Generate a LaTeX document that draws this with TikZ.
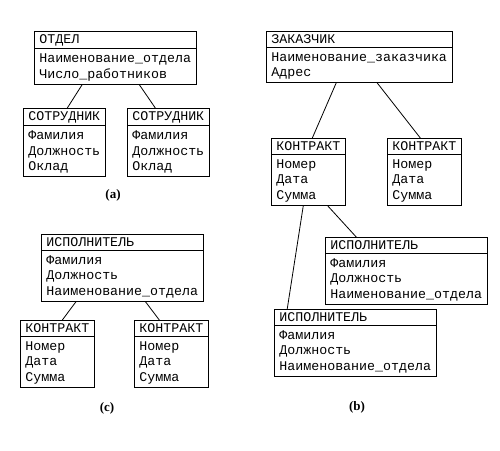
\documentclass[tikz,border=0pt]{standalone}
\usepackage{fontspec}
\newfontfamily\erfont{Liberation Mono}
\newfontfamily\lblfont{Liberation Serif}
\usetikzlibrary{shapes.multipart}
\newcommand\erhead{\rule[-1pt]{0pt}{11pt}}
\newcommand\erline{\rule[-3.5pt]{0pt}{15pt}}
\begin{document}
\begin{tikzpicture}[x=1pt,y=-1pt,line width=0.8pt,
	entity/.style={rectangle split,rectangle split parts=2,draw,anchor=north west,
		rectangle split part align={left},align=left,inner xsep=5pt,inner ysep=2pt,
		font=\erfont\fontsize{13.3}{15.5}\selectfont},
	tag/.style={font=\lblfont\bfseries\fontsize{13}{15}\selectfont}]
	\useasboundingbox (0,0) rectangle (500,450);
	% (a)
	\node[entity] (otdel) at (34,31) {\erhead ОТДЕЛ\nodepart{two}\erline Наименование\_отдела\\\erline Число\_работников};
	\node[entity] (sotr1) at (23,108) {\erhead СОТРУДНИК\nodepart{two}\erline Фамилия\\\erline Должность\\\erline Оклад};
	\node[entity] (sotr2) at (127,108) {\erhead СОТРУДНИК\nodepart{two}\erline Фамилия\\\erline Должность\\\erline Оклад};
		\draw ([xshift=-33pt]otdel.south)--([xshift=3pt]sotr1.north);
		\draw ([xshift=24pt]otdel.south)--([xshift=-13pt]sotr2.north);
	\node[tag] (lbla) at (113,195) {(a)};
	% (b)
	\node[entity] (zakaz) at (266,31) {\erhead ЗАКАЗЧИК\nodepart{two}\erline Наименование\_заказчика\\\erline Адрес};
	\node[entity] (kontr1) at (271,138) {\erhead КОНТРАКТ\nodepart{two}\erline Номер\\\erline Дата\\\erline Сумма};
	\node[entity] (kontr2) at (387,138) {\erhead КОНТРАКТ\nodepart{two}\erline Номер\\\erline Дата\\\erline Сумма};
	\node[entity] (isp1) at (325,237) {\erhead ИСПОЛНИТЕЛЬ\nodepart{two}\erline Фамилия\\\erline Должность\\\erline Наименование\_отдела};
	\node[entity] (isp2) at (274,309) {\erhead ИСПОЛНИТЕЛЬ\nodepart{two}\erline Фамилия\\\erline Должность\\\erline Наименование\_отдела};
		\draw ([xshift=-23pt]zakaz.south)--([xshift=4pt]kontr1.north);
		\draw ([xshift=18pt]zakaz.south)--([xshift=-4pt]kontr2.north);
		\draw ([xshift=19pt]kontr1.south)--([xshift=-50pt]isp1.north);
		\draw ([xshift=-5pt]kontr1.south)--([xshift=-68pt]isp2.north);
	\node[tag] (lblb) at (357,407) {(b)};
	% (c)
	\node[entity] (isp3) at (41,234) {\erhead ИСПОЛНИТЕЛЬ\nodepart{two}\erline Фамилия\\\erline Должность\\\erline Наименование\_отдела};
	\node[entity] (kontr3) at (20,320) {\erhead КОНТРАКТ\nodepart{two}\erline Номер\\\erline Дата\\\erline Сумма};
	\node[entity] (kontr4) at (134,320) {\erhead КОНТРАКТ\nodepart{two}\erline Номер\\\erline Дата\\\erline Сумма};
		\draw ([xshift=-46pt]isp3.south)--([xshift=5pt]kontr3.north);
		\draw ([xshift=23pt]isp3.south)--([xshift=-12pt]kontr4.north);
	\node[tag] (lblc) at (107,408) {(c)};
\end{tikzpicture}
\end{document}
